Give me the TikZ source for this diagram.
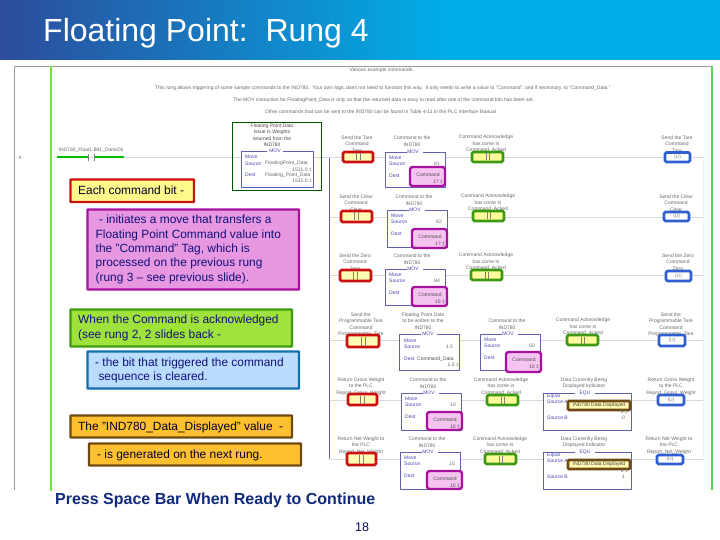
\documentclass[tikz,border=0pt]{standalone}
\usepackage{fontspec}
\setmainfont{Liberation Sans}
\definecolor{navy}{HTML}{10107A}
\definecolor{inkblue}{HTML}{4A48B4}
\definecolor{smalltxt}{HTML}{6A6A6A}
\definecolor{rail}{HTML}{55D855}
\definecolor{rungc}{HTML}{D8D8E0}
\definecolor{boxblue}{HTML}{6060B0}
\definecolor{magb}{HTML}{A810A0}
\definecolor{magf}{HTML}{F6C4F0}
\definecolor{redb}{HTML}{CC1010}
\definecolor{greenb}{HTML}{3C9A10}
\definecolor{blueb}{HTML}{3060D0}
\definecolor{brownb}{HTML}{6E4A12}
\definecolor{banda}{HTML}{2C4C9C}
\definecolor{bandb}{HTML}{0C7CC2}
\definecolor{bandc}{HTML}{00AEE8}
\definecolor{pinkf}{HTML}{E898E0}
\definecolor{limef}{HTML}{A0E23C}
\definecolor{skyb}{HTML}{1070B0}
\definecolor{skyf}{HTML}{BADCFF}
\definecolor{ambf}{HTML}{FFC030}
\definecolor{footc}{HTML}{102A7C}
\tikzset{
  x=1pt,y=-1pt,
  small/.style={font=\fontsize{5}{6.5}\selectfont,text=smalltxt,inner sep=0,align=center},
  inst/.style={font=\fontsize{5}{6}\selectfont,text=inkblue,inner sep=0,anchor=west},
  val/.style={font=\fontsize{5}{6.5}\selectfont,text=smalltxt,inner sep=0,anchor=east,align=right},
  movbox/.style={draw=boxblue,line width=.8pt},
  contactred/.style={draw=redb,line width=2.6pt,rounded corners=1.5pt,fill=yellow!30},
  contactgreen/.style={draw=greenb,line width=2.6pt,rounded corners=1.5pt,fill=yellow!40},
  coilblue/.style={draw=blueb,line width=2.6pt,rounded corners=1.5pt,fill=white},
  magtag/.style={draw=magb,line width=2.4pt,rounded corners=2.5pt,fill=magf},
  browntag/.style={draw=brownb,line width=2.6pt,rounded corners=1pt,fill=yellow!30},
  callout/.style={line width=2.4pt,rounded corners=.6pt},
  calltext/.style={font=\fontsize{11.9}{14.35}\selectfont,text=navy,inner sep=0,anchor=west,align=left},
}
\begin{document}
\begin{tikzpicture}
\useasboundingbox (0,0) rectangle (720,540);
\fill[white] (0,0) rectangle (720,540);
% title band
\fill[bandc] (449,0) rectangle (720,60);
\shade[left color=banda,middle color=bandb,right color=bandc] (0,0) rectangle (450,60);
\node[font=\fontsize{32}{36}\selectfont,text=white,inner sep=0,anchor=base west] (title) at (43,42) {Floating Point:\ \ Rung 4};
% frame and rails
\draw[gray!80,line width=.8pt] (14,490) -- (14,66) -- (712,66);
\draw[rail!70!lime,line width=1.4pt] (51,66) -- (51,491);
\draw[rail,line width=1.5pt] (712,66) -- (712,490);
\draw[gray!12,line width=.6pt] (703,157) -- (703,460);
\draw[boxblue,line width=.8pt] (329.5,158) -- (329.5,459);
% rungs
\foreach \y in {217,275,340,400,459} \draw[rungc,line width=.7pt] (329.5,\y) -- (703,\y);
\draw[rungc,line width=.7pt] (57,157) -- (703,157);
\node[small] (rungno) at (20,157.5) {4};
% notes at top
\node[small] (n1) at (381,70) {Various example commands};
\node[small,anchor=west] (n2) at (155,88) {This rung allows triggering of some sample commands to the IND780.\ \ Your own logic does not need to function this way.\ \ It only needs to write a value to "Command", and if necessary, to "Command\_Data."};
\node[small,anchor=west] (n3) at (233,100) {The MOV instruction for FloatingPoint\_Data is only so that the returned data is easy to read after one of the command bits has been set.};
\node[small,anchor=west] (n4) at (265,112) {Other commands that can be sent to the IND780 can be found in Table 4-11 in the PLC Interface Manual};
% first contact
\draw[green!75!black,line width=1.8pt] (57,157.3) -- (88,157.3) (94,157.3) -- (124,157.3);
\draw[gray,line width=.7pt] (88.5,154) -- (88.5,161) (94,154) -- (94,161);
\node[small] (c0) at (91,150.5) {IND780\_Float1.Bit1\_DoneOk};
% floating point data box
\draw[green!35!black,line width=.9pt] (232.5,122.5) rectangle (321.5,190);
\node[small,text=black!70] (f1) at (272,135) {Floating Point Data\\Issue Is Weights\\returned from the\\IND780};
\fill[white] (241,151) rectangle (313,187);
\draw[movbox] (241.5,151.5) rectangle (313.5,187);
\fill[white] (267,149) rectangle (283,153);
\node[small,text=inkblue] (f2) at (275,151) {MOV};
\node[inst] (f3) at (245,157) {Move};
\node[inst] (f4) at (245,163.5) {Source};
\node[inst] (f5) at (245,175) {Dest};
\node[small,anchor=west] (f6) at (265,163.5) {FloatingPoint\_Data};
\node[val] (f7) at (312,169.5) {1531.0 ‡};
\node[small,anchor=west] (f8) at (265,175) {Floating\_Point\_Data};
\node[val] (f9) at (312,181) {1531.0 ‡};
% MOV boxes: x, y top, y bottom, value, mag left, mag top, mag bottom, label y, command line
\foreach \x/\t/\b/\v/\ml/\mt/\mb/\ly/\cc/\id in {
 385/152/187/81/410/167/186/141/1?/a,
 387/210/247/82/412/229/248/200/1?/b,
 385/269/305/84/412/287/306/259/10/c,
 480/334/370/60/506/352/372/324/10/d,
 401/393/430/10/427/412/430/383/10/e,
 400/452/489/15/427/471/489/442/10/f}{
  \fill[white] (\x,\t) rectangle ({\x+60},\b);
  \draw[movbox] (\x,\t) rectangle ({\x+60},\b);
  \fill[white] ({\x+22},{\t-2}) rectangle ({\x+38},{\t+2});
  \node[small,text=inkblue] (mv\id) at ({\x+28},\t) {MOV};
  \node[small] (ml\id) at ({\x+27},\ly) {Command to the\\IND780};
  \node[inst] (mm\id) at ({\x+4},{\t+6}) {Move};
  \node[inst] (ms\id) at ({\x+4},{\t+12}) {Source};
  \node[inst] (md\id) at ({\x+4},{\t+24}) {Dest};
  \node[val] (mn\id) at ({\x+55},{\t+12}) {\v};
  \draw[magtag] (\ml,\mt) rectangle ({\ml+35},\mb);
  \node[small,text=black!70] (mc\id) at ({\ml+18},{\mt+8}) {Command};
  \node[val,text=black!70] (me\id) at ({\ml+33},{\mt+15}) {\cc\ ‡};
}
% floating point data MOV on rung 4
\fill[white] (399,334) rectangle (459,370);
\draw[movbox] (399,334) rectangle (459,370);
\fill[white] (421,332) rectangle (437,336);
\node[small,text=inkblue] (w1) at (428,334) {MOV};
\node[small] (w2) at (423,321) {Floating Point Data\\to be written to the\\IND780};
\node[inst] (w3) at (404,341) {Move};
\node[inst] (w4) at (404,347) {Source};
\node[inst] (w5) at (404,359) {Dest};
\node[val] (w6) at (453,347) {1.5};
\node[small,anchor=west,text=black!70] (w7) at (417,359) {Command\_Data};
\node[val] (w8) at (459,365) {1.5 ‡};
% EQU boxes
\foreach \t/\b/\l/\o/\tag/\id in {393/430/383/0/IND780 Data Displayed/a, 452/489/442/1/IND780 Data Displayed/b}{
  \fill[white] (543,\t) rectangle (631,\b);
  \draw[movbox] (543,\t) rectangle (631,\b);
  \fill[white] (575,{\t-2}) rectangle (595,{\t+2});
  \node[small,text=inkblue] (q1\id) at (585,\t) {EQU};
  \node[small] (q2\id) at (584,\l) {Data Currently Being\\Displayed Indicator};
  \node[inst] (q3\id) at (547,{\t+3}) {Equal};
  \node[inst] (q4\id) at (547,{\t+9}) {Source A};
  \node[inst] (q5\id) at (547,{\t+25}) {Source B};
  \draw[browntag] (568,{\t+8}) rectangle (630,{\t+17});
  \node[small,text=black!75] (q6\id) at (599,{\t+12.7}) {\tag};
  \node[val] (q7\id) at (628,{\t+19}) {9 ‡};
  \node[val] (q8\id) at (625,{\t+25}) {\o};
}
% contacts and coils
\foreach \x/\xx/\t/\b/\cx/\ly/\tx/\id in {
 343/373/152/162/357/144/{Send the Tare\\Command\\Tare}/a,
 341/372/211/222/356/203/{Send the Clear\\Command\\Clear}/b,
 340/371/270/281/355/262/{Send the Zero\\Command\\Zero}/c,
 347/379/335/347/361/324.5/{Send the\\Programmable Tare\\Command\\Programmable\_Tare}/d,
 348/377/394/405/361/386.5/{Return Gross Weight\\to the PLC\\Report\_Gross\_Weight}/e,
 347/376/453/465/361/445.5/{Return Net Weight to\\the PLC\\Report\_Net\_Weight}/f}{
  \node[small] (rl\id) at (\cx,\ly) {\tx};
  \draw[contactred] (\x,\t) rectangle (\xx,\b);
  \draw[gray,line width=.6pt] ({(\x+\xx)/2-2},{\t+1.5}) -- ({(\x+\xx)/2-2},{\b-1.5}) ({(\x+\xx)/2+2},{\t+1.5}) -- ({(\x+\xx)/2+2},{\b-1.5});
}
\foreach \x/\xx/\t/\b/\cx/\ly/\id in {
 472/503/152/162/486/144/a,
 473/504/211/221/488/203/b,
 471/502/270/280/486/262/c,
 567/598/335/345/583/327/d,
 487/518/395/405/501/386.5/e,
 485/516/454/464/500/445.5/f}{
  \node[small] (gl\id) at (\cx,\ly) {Command Acknowledge\\has come in\\Command\_Acked};
  \draw[contactgreen] (\x,\t) rectangle (\xx,\b);
  \draw[gray,line width=.6pt] ({(\x+\xx)/2-1},{\t+1.5}) -- ({(\x+\xx)/2-1},{\b-1.5}) ({(\x+\xx)/2+2},{\t+1.5}) -- ({(\x+\xx)/2+2},{\b-1.5});
}
\foreach \x/\xx/\t/\b/\cx/\ly/\tx/\id in {
 665/690/152.5/162/677/144/{Send the Tare\\Command\\Tare}/a,
 664/689/212/221/676/203/{Send the Clear\\Command\\Clear}/b,
 666/691/271/281/678/262/{Send the Zero\\Command\\Zero}/c,
 659/685/335/346/671/324.5/{Send the\\Programmable Tare\\Command\\Programmable\_Tare}/d,
 658/684/395/405/671/386.5/{Return Gross Weight\\to the PLC\\Report\_Gross\_Weight}/e,
 657/683/455/464/669/445.5/{Return Net Weight to\\the PLC\\Report\_Net\_Weight}/f}{
  \node[small] (bl\id) at (\cx,\ly) {\tx};
  \draw[coilblue] (\x,\t) rectangle (\xx,\b);
  \node[small,text=gray] (bc\id) at ({(\x+\xx)/2},{(\t+\b)/2}) {(U)};
}
% callouts
\draw[callout,draw=redb,fill=yellow!45] (70.5,179.5) rectangle (194,202);
\node[calltext,text=black!85!blue] (t1) at (78,190.5) {Each command bit -};
\draw[callout,draw=magb,fill=pinkf] (87.5,209.5) rectangle (299,289.5);
\node[calltext] (t2) at (95.5,249.5) {\ - initiates a move that transfers a\\Floating Point Command value into\\the "Command" Tag, which is\\processed on the previous rung\\(rung 3 – see previous slide).};
\draw[callout,draw=greenb,fill=limef] (70.5,309.5) rectangle (292,346.5);
\node[calltext] (t3) at (78,328) {When the Command is acknowledged\\(see rung 2, 2 slides back -};
\draw[callout,draw=skyb,fill=skyf] (87.5,351.5) rectangle (299,388.5);
\node[calltext] (t4) at (95,370.5) {- the bit that triggered the command\\\ sequence is cleared.};
\draw[callout,draw=brownb,fill=ambf] (70.5,415.5) rectangle (292,437.5);
\node[calltext,text=black!85!blue] (t5) at (78,427) {The "IND780\_Data\_Displayed" value\ \ -};
\draw[callout,draw=brownb,fill=ambf] (89,443.5) rectangle (301,465.5);
\node[calltext,text=black!85!blue] (t6) at (97,455) {- is generated on the next rung.};
% footer
\node[font=\fontsize{16}{18}\bfseries\selectfont,text=footc,inner sep=0,anchor=west] (t7) at (55,500.5) {Press Space Bar When Ready to Continue};
\node[font=\fontsize{12.5}{14}\selectfont,text=navy!70!black,inner sep=0] (t8) at (362,527) {18};
\end{tikzpicture}
\end{document}
